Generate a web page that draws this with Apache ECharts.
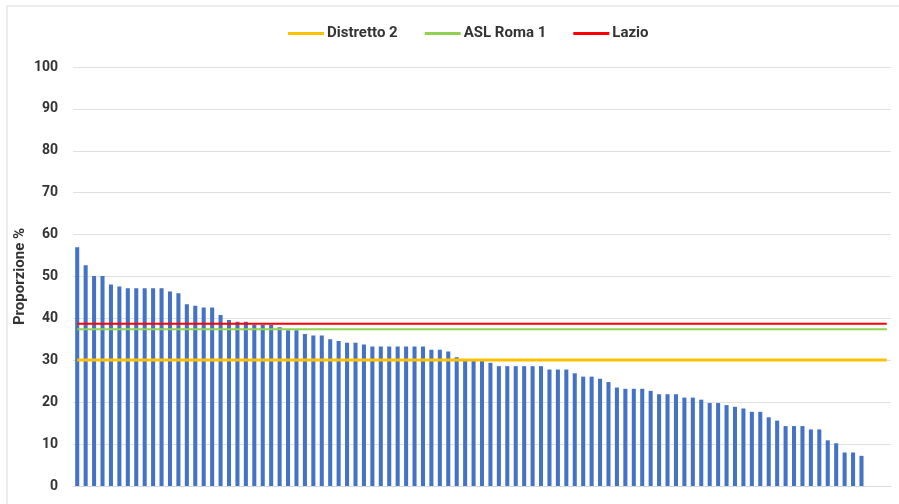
<!DOCTYPE html>
<html>
<head>
<meta charset="utf-8">
<script src="https://cdn.jsdelivr.net/npm/echarts@6/dist/echarts.min.js"></script>
<style>html,body{margin:0;padding:0;background:#fff}#c{width:899px;height:504px}</style>
</head>
<body>
<div id="c"></div>
<script>
const barValues = [57.0,52.7,50.1,50.1,48.1,47.6,47.2,47.2,47.2,47.2,47.2,46.4,46.0,43.4,43.0,42.6,42.6,40.8,39.6,39.2,
39.2,38.5,38.5,38.5,37.9,37.2,37.2,36.3,35.9,35.9,35.0,34.6,34.2,34.2,33.8,33.3,33.3,33.3,33.3,33.3,
33.3,33.3,32.5,32.5,32.1,30.7,30.1,30.1,29.9,29.4,28.6,28.6,28.6,28.6,28.6,28.6,27.8,27.8,27.8,26.9,
26.1,26.1,25.6,24.8,23.5,23.2,23.2,23.2,22.7,21.9,21.9,21.9,21.1,21.1,20.6,19.8,19.8,19.3,18.9,18.5,
17.7,17.7,16.4,15.6,14.3,14.3,14.3,13.5,13.5,10.9,10.2,8.0,8.0,7.2,null,null,null];
const categories = barValues.map((v, i) => String(i + 1));
const refNames = ['Distretto 2', 'ASL Roma 1', 'Lazio'];
const refValues = [30.1, 37.4, 38.7];
const refColors = ['#FFC000', '#92D050', '#FF0000'];
const refWidths = [3, 2, 2];
const yTicks = [0, 10, 20, 30, 40, 50, 60, 70, 80, 90, 100];

const chart = echarts.init(document.getElementById('c'));
const lastIdx = categories.length - 1;
const series = [{
  type: 'bar',
  name: 'valori',
  data: barValues,
  barWidth: '48%',
  itemStyle: { color: '#4472C4' },
  z: 2
}];
refNames.forEach((n, i) => {
  series.push({
    type: 'line',
    name: n,
    data: [[0, refValues[i]], [lastIdx, refValues[i]]],
    symbol: 'none',
    lineStyle: { color: refColors[i], width: refWidths[i] },
    itemStyle: { color: refColors[i] },
    z: 3 + i
  });
});
chart.setOption({
  animation: false,
  backgroundColor: '#fff',
  graphic: [{
    type: 'rect', shape: { x: 7, y: 6, width: 900, height: 510 },
    style: { fill: 'none', stroke: '#d9d9d9', lineWidth: 1 }, silent: true, z: -1
  }],
  legend: {
    data: refNames,
    left: 283, top: 21,
    itemWidth: 36, itemHeight: 3, itemGap: 27,
    icon: 'rect',
    textStyle: { fontFamily: 'Roboto', fontWeight: 'bold', fontSize: 15, color: '#333', padding: [0, 0, 0, -2] }
  },
  grid: { left: 73, right: 8, top: 67, bottom: 18, containLabel: false, outerBoundsMode: 'none' },
  xAxis: {
    type: 'category',
    data: categories,
    axisLabel: { show: false },
    axisTick: { show: false },
    axisLine: { lineStyle: { color: '#d9d9d9' } }
  },
  yAxis: {
    type: 'value',
    min: yTicks[0], max: yTicks[yTicks.length - 1], interval: 10,
    name: 'Proporzione %',
    nameLocation: 'middle',
    nameGap: 45,
    nameMoveOverlap: false,
    nameTextStyle: { fontFamily: 'Roboto', fontWeight: 'bold', fontSize: 15, color: '#333' },
    axisLabel: { fontFamily: 'Roboto', fontWeight: 'bold', fontSize: 14, color: '#333', margin: 15 },
    axisLine: { show: false },
    axisTick: { show: false },
    splitLine: { lineStyle: { color: '#e0e0e0', width: 1 } }
  },
  series: series
});
</script>
</body>
</html>
